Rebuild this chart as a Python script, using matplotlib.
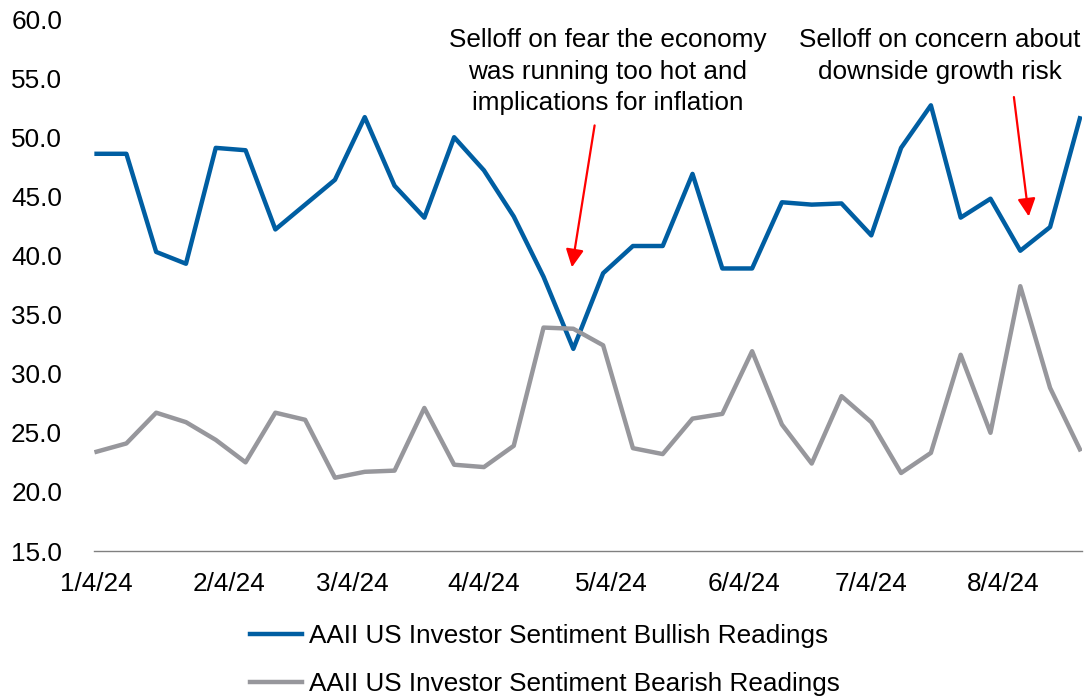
import numpy as np
import pandas as pd
import matplotlib
matplotlib.use('Agg')
import matplotlib.pyplot as plt

plt.rcParams['font.family'] = ['Liberation Sans', 'DejaVu Sans']

# weekly AAII readings, Thursdays from 1/4/24
dates = pd.date_range('2024-01-04', periods=34, freq='7D')
bullish = [48.6, 48.6, 40.3, 39.3, 49.1, 48.9, 42.2, 44.3, 46.4, 51.7,
           45.9, 43.2, 50.0, 47.2, 43.3, 38.2, 32.1, 38.5, 40.8, 40.8,
           46.9, 38.9, 38.9, 44.5, 44.3, 44.4, 41.7, 49.1, 52.7, 43.2,
           44.8, 40.4, 42.4, 51.6]
bearish = [23.4, 24.1, 26.7, 25.9, 24.4, 22.5, 26.7, 26.1, 21.2, 21.7,
           21.8, 27.1, 22.3, 22.1, 23.9, 33.9, 33.8, 32.4, 23.7, 23.2,
           26.2, 26.6, 31.9, 25.7, 22.4, 28.1, 25.9, 21.6, 23.3, 31.6,
           25.0, 37.4, 28.8, 23.6]
tick_dates = pd.date_range('2024-01-01', '2024-08-01', freq='MS') + pd.Timedelta(days=3)

note1 = 'Selloff on fear the economy\nwas running too hot and\nimplications for inflation'
note2 = 'Selloff on concern about\ndownside growth risk'

fs = 18.8
fig = plt.figure(figsize=(10.87, 6.99), dpi=100)
ax = fig.add_axes([0.0865, 0.2117, 0.9089, 0.7611])

ax.plot(dates, bullish, color='#005ea2', lw=3.2, label='AAII US Investor Sentiment Bullish Readings')
ax.plot(dates, bearish, color='#97979c', lw=3.2, label='AAII US Investor Sentiment Bearish Readings')

ax.set_ylim(15, 60)
ax.set_yticks(np.arange(15, 61, 5))
ax.yaxis.set_major_formatter(matplotlib.ticker.FormatStrFormatter('%.1f'))
ax.set_xlim(dates[0] - pd.Timedelta(days=0.6), dates[-1] + pd.Timedelta(days=0.5))
ax.set_xticks(tick_dates)
ax.set_xticklabels([f'{d.month}/{d.day}/{d.strftime("%y")}' for d in tick_dates])

for s in ['top', 'right', 'left']:
    ax.spines[s].set_visible(False)
ax.spines['bottom'].set_color('#808080')
ax.spines['bottom'].set_linewidth(1.0)
ax.tick_params(axis='y', length=0, pad=23, labelsize=fs)
ax.tick_params(axis='x', length=0, pad=15, labelsize=fs)

arrow = dict(arrowstyle='-|>,head_length=0.6,head_width=0.3', color='red', lw=1.6,
             mutation_scale=18, shrinkA=0, shrinkB=0)
ax.annotate('', xy=(pd.Timestamp('2024-04-24 16:00'), 39.0),
            xytext=(pd.Timestamp('2024-04-30'), 51.0), arrowprops=arrow)
ax.annotate('', xy=(pd.Timestamp('2024-08-10'), 43.3),
            xytext=(pd.Timestamp('2024-08-06 12:00'), 53.4), arrowprops=arrow)
ax.text(pd.Timestamp('2024-05-03'), 59.2, note1, ha='center', va='top',
        fontsize=fs, linespacing=1.38)
ax.text(pd.Timestamp('2024-07-20'), 59.2, note2, ha='center', va='top',
        fontsize=fs, linespacing=1.38)

ax.legend(loc='center', bbox_to_anchor=(0.501, 0.0558), bbox_transform=fig.transFigure,
          ncol=1, frameon=False, fontsize=fs, handlelength=2.0, handletextpad=0.25,
          labelspacing=0.9)

fig.savefig('out.png', dpi=100)
